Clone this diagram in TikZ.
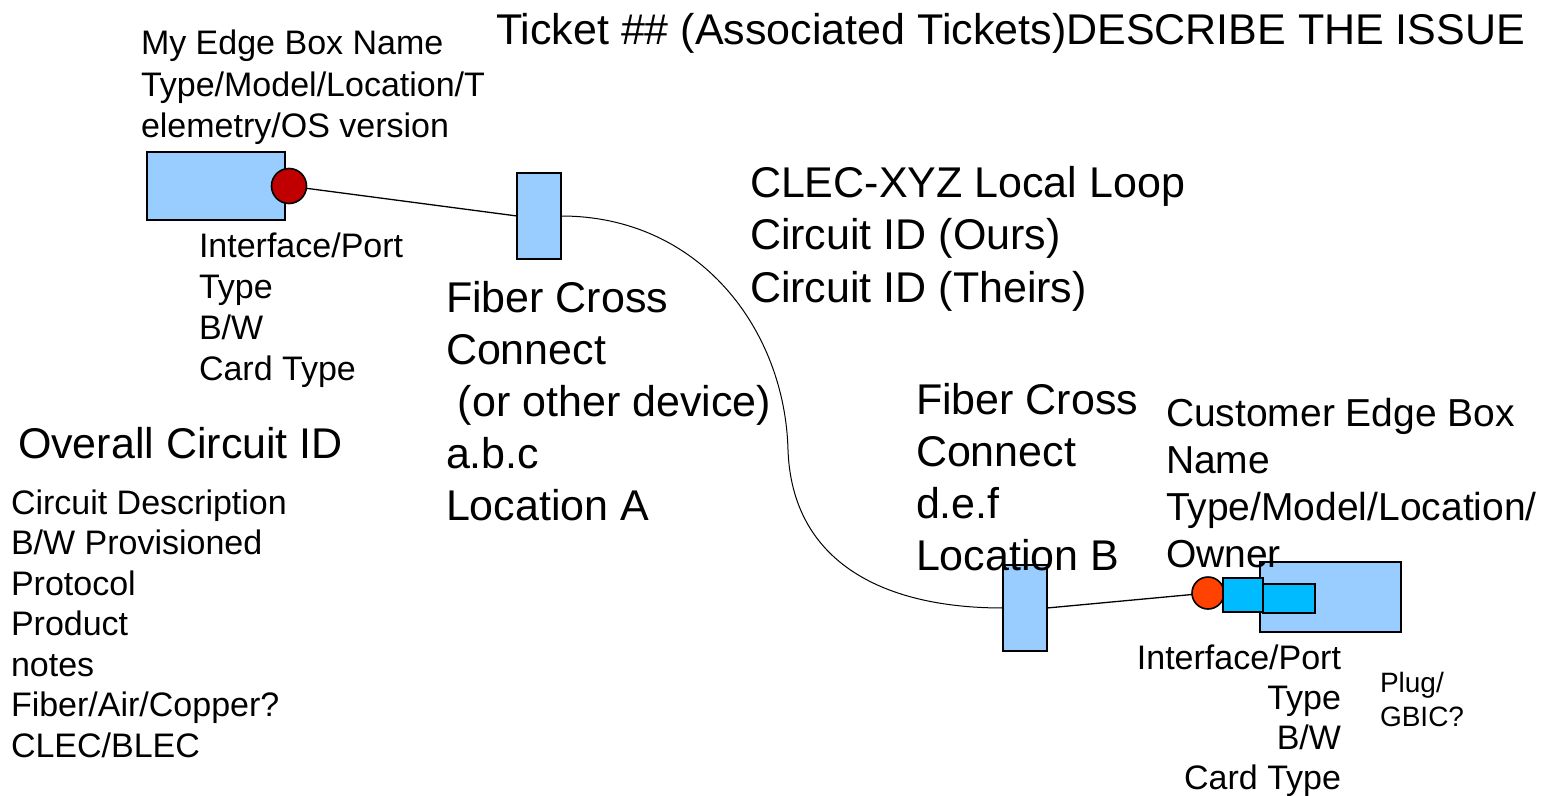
\documentclass[tikz,border=0pt]{standalone}
\usepackage{fontspec}
\setmainfont{Liberation Sans}
\definecolor{boxblue}{RGB}{153,204,255}
\definecolor{portred}{RGB}{192,0,0}
\definecolor{portorange}{RGB}{255,66,0}
\definecolor{plugcyan}{RGB}{0,187,255}
\newcommand{\Lstack}[2]{\vtop{\baselineskip=#1\relax\halign{##\hfil\cr#2\crcr}}}
\newcommand{\Rstack}[2]{\vtop{\baselineskip=#1\relax\halign{\hfil##\cr#2\crcr}}}
\begin{document}
\begin{tikzpicture}[x=1bp,y=-1bp,
  shp/.style={draw=black, line width=1.6bp, inner sep=0pt, outer sep=0pt},
  bx/.style={shp, rectangle, fill=boxblue},
  wire/.style={draw=black, line width=1.3bp},
  txt/.style={inner sep=0pt, outer sep=0pt, anchor=base west},
  fL/.style={font=\fontsize{43bp}{52bp}\selectfont},
  fC/.style={font=\fontsize{39bp}{47bp}\selectfont},
  fM/.style={font=\fontsize{34bp}{41bp}\selectfont},
  fS/.style={font=\fontsize{28bp}{34bp}\selectfont}
]
\useasboundingbox (0,0) rectangle (1544,795);
\fill[white] (0,0) rectangle (1544,795);

% shapes
\node[bx, minimum width=138bp, minimum height=68bp] (mybox) at (216,186) {};
\node[shp, circle, fill=portred, minimum size=35bp] (myport) at (289,186) {};
\node[bx, minimum width=44bp, minimum height=86bp] (fcA) at (539,216) {};
\node[bx, minimum width=44bp, minimum height=86bp] (fcB) at (1025,608) {};
\node[bx, minimum width=141bp, minimum height=70bp] (custbox) at (1330.5,597) {};
\node[shp, circle, fill=portorange, minimum size=32bp] (custport) at (1208,593) {};
\node[shp, rectangle, fill=plugcyan, minimum width=40bp, minimum height=34bp] (plugA) at (1243,595) {};
\node[shp, rectangle, fill=plugcyan, minimum width=52bp, minimum height=29bp] (plugB) at (1289,598.5) {};

% connectors
\coordinate (loopmid) at (788,450);
\draw[wire] (myport) -- (fcA.west);
\draw[wire, line width=1bp] (fcA.east) .. controls +(139,0) and +(-3,-120) .. (loopmid)
      .. controls +(4,110) and +(-123,0) .. (fcB.west);
\draw[wire] (fcB.east) -- (custport);

% texts
\node[txt,fL] (ticket) at (496,45) {Ticket \#\# (Associated Tickets)DESCRIBE THE ISSUE};
\node[txt,fM] (myname) at (141,55) {\Lstack{41bp}{My Edge Box Name\cr Type/Model/Location/T\cr elemetry/OS version}};
\node[txt,fM] (myif) at (199,257) {\Lstack{41bp}{Interface/Port\cr Type\cr B/W\cr Card Type}};
\node[txt,fL] (fcAtext) at (446,312) {\Lstack{52bp}{Fiber Cross\cr Connect\cr \ (or other device)\cr a.b.c\cr Location A}};
\node[txt,fL] (loop) at (750,197) {\Lstack{52.5bp}{CLEC-XYZ Local Loop\cr Circuit ID (Ours)\cr Circuit ID (Theirs)}};
\node[txt,fL] (overall) at (18,458) {Overall Circuit ID};
\node[txt,fM] (details) at (11,514) {\Lstack{40.5bp}{Circuit Description\cr B/W Provisioned\cr Protocol\cr Product\cr notes\cr Fiber/Air/Copper?\cr CLEC/BLEC}};
\node[txt,fL] (fcBtext) at (916,414) {\Lstack{52bp}{Fiber Cross\cr Connect\cr d.e.f\cr Location B}};
\node[txt,fC] (custtext) at (1166,426) {\Lstack{47bp}{Customer Edge Box\cr Name\cr Type/Model/Location/\cr Owner}};
\node[txt,fM,anchor=base east] (custif) at (1341,669) {\Rstack{40.3bp}{Interface/Port\cr Type\cr B/W\cr Card Type}};
\node[txt,fS] (plug) at (1380,692) {\Lstack{34bp}{Plug/\cr GBIC?}};
\end{tikzpicture}
\end{document}
